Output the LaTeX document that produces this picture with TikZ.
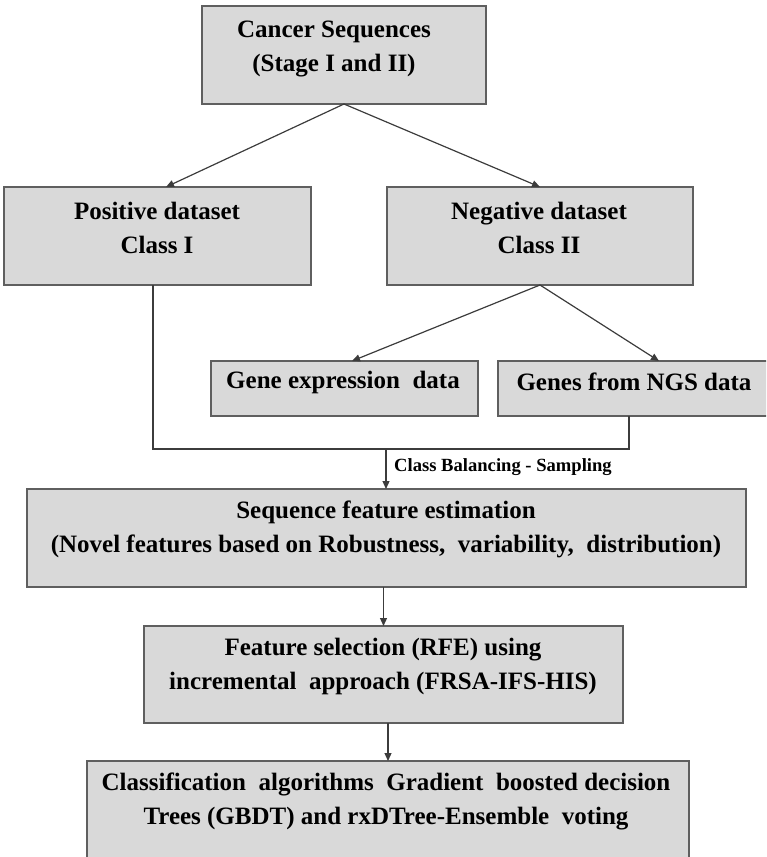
\documentclass[tikz,border=0pt]{standalone}
\usepackage{fontspec}
\setmainfont{Liberation Serif}
\usetikzlibrary{arrows.meta}
\definecolor{boxfill}{RGB}{217,217,217}
\definecolor{boxline}{RGB}{95,95,95}
\definecolor{wire}{RGB}{60,60,60}

\begin{document}
\begin{tikzpicture}[x=1pt,y=-1pt,
  stagebox/.style={draw=boxline, line width=1.6pt, fill=boxfill, inner sep=0pt, outer sep=0pt},
  caption/.style={font=\fontsize{25}{34}\selectfont\bfseries, align=center, inner sep=0pt},
  smallcap/.style={font=\fontsize{18.6}{22}\selectfont\bfseries, inner sep=0pt},
  wirel/.style={draw=wire, line width=1.2pt},
  flow/.style={wirel, -{Triangle[length=8pt,width=7pt]}}]

\useasboundingbox (0,0) rectangle (766,857);
\clip (0,0) rectangle (766,857);

% boxes of the flow
\node[stagebox, minimum width=284pt, minimum height=98pt] (top)  at (344,55) {};
\node[stagebox, minimum width=307pt, minimum height=98pt] (pos)  at (157.5,236) {};
\node[stagebox, minimum width=306pt, minimum height=98pt] (neg)  at (540,236) {};
\node[stagebox, minimum width=267pt, minimum height=55pt] (gene) at (344.5,388.5) {};
\node[stagebox, minimum width=274pt, minimum height=55pt] (ngs)  at (635,388.5) {};
\node[stagebox, minimum width=719pt, minimum height=98pt] (seq)  at (386.5,538) {};
\node[stagebox, minimum width=479pt, minimum height=97pt] (feat) at (383.5,674.5) {};
\node[stagebox, minimum width=602pt, minimum height=109pt] (cls) at (388,815.5) {};

% box texts
\node[caption] (topT)  at (334,49) {Cancer Sequences\\(Stage I and II)};
\node[caption] (posT)  at (157,227.5) {Positive dataset\\Class I};
\node[caption] (negT)  at (539,227.5) {Negative dataset\\Class II};
\node[caption] (geneT) at (343,382) {Gene expression\ \ data};
\node[caption] (ngsT)  at (634,382) {Genes from NGS data};
\node[caption] (seqT)  at (386,529.5) {Sequence feature estimation\\(Novel features based on Robustness,\ \ variability,\ \ distribution)};
\node[caption] (featT) at (383,666) {Feature selection (RFE) using\\incremental\ \ approach (FRSA-IFS-HIS)};
\node[caption] (clsT)  at (386,801) {Classification\ \ algorithms\ \ Gradient\ \ boosted decision\\Trees (GBDT) and rxDTree-Ensemble\ \ voting};

% connector end points
\coordinate (posIn)   at (166,187);
\coordinate (geneIn)  at (352,361);
\coordinate (ngsIn)   at (659,361);
\coordinate (posOut)  at (153,285);
\coordinate (ngsOut)  at (629,416);
\coordinate (join)    at (386,449);

% connectors
\draw[flow] (top.south) -- (posIn);
\draw[flow] (top.south) -- (neg.north);
\draw[flow] (neg.south) -- (geneIn);
\draw[flow] (neg.south) -- (ngsIn);
\draw[wirel] (posOut) |- (join) -| (ngsOut);
\draw[flow] (join) -- (join |- seq.north);
\node[smallcap, anchor=west] (balance) at (394,467) {Class Balancing - Sampling};
\draw[flow] (feat.north |- seq.south) -- (feat.north);
\draw[flow] (cls.north |- feat.south) -- (cls.north);
\end{tikzpicture}
\end{document}
